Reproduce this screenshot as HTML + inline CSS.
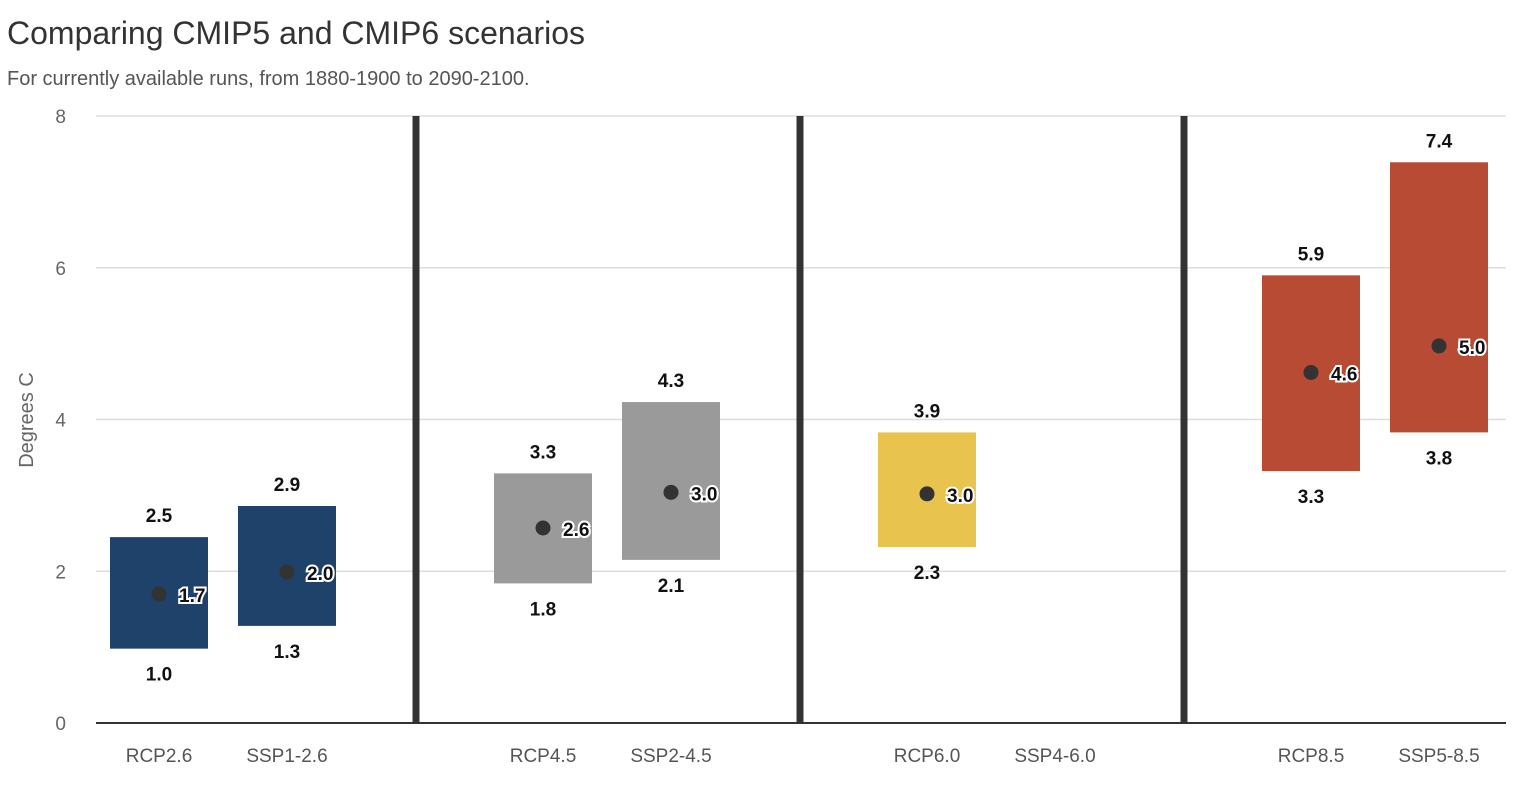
<!DOCTYPE html>
<html><head><meta charset="utf-8"><style>
body{margin:0;background:#fff;font-family:"Liberation Sans",sans-serif;}
svg text{font-family:"Liberation Sans",sans-serif;}
</style></head><body>
<svg id="c" width="1522" height="786" xmlns="http://www.w3.org/2000/svg">
<text x="7" y="44" font-size="32" fill="#333">Comparing CMIP5 and CMIP6 scenarios</text>
<text x="7" y="85" font-size="20" fill="#555">For currently available runs, from 1880-1900 to 2090-2100.</text>
<text transform="translate(33,420) rotate(-90)" text-anchor="middle" font-size="20" fill="#666">Degrees C</text>
<g id="grid"></g><g id="marks"></g>
</svg>
<script>
const categories=["RCP2.6","SSP1-2.6","","RCP4.5","SSP2-4.5","","RCP6.0","SSP4-6.0","","RCP8.5","SSP5-8.5"];
const lows=[0.98,1.28,null,1.84,2.15,null,2.32,null,null,3.32,3.83];
const highs=[2.45,2.86,null,3.29,4.23,null,3.83,null,null,5.90,7.39];
const medians=[1.70,1.99,null,2.57,3.04,null,3.02,null,null,4.62,4.97];
const lowLabels=["1.0","1.3","","1.8","2.1","","2.3","","","3.3","3.8"];
const highLabels=["2.5","2.9","","3.3","4.3","","3.9","","","5.9","7.4"];
const medLabels=["1.7","2.0","","2.6","3.0","","3.0","","","4.6","5.0"];
const colors=["#1f426b","#1f426b","","#9a9a9a","#9a9a9a","","#e8c34d","","","#b84b34","#b84b34"];
const yTicks=[0,2,4,6,8];
const separators=[2,5,8];
const NS="http://www.w3.org/2000/svg";
const y=v=>723-v*75.875;
const x=i=>159+i*128;
function mk(tag,attrs,parent,txt){const e=document.createElementNS(NS,tag);for(const k in attrs)e.setAttribute(k,attrs[k]);if(txt!=null)e.textContent=txt;parent.appendChild(e);return e;}
const g=document.getElementById('grid'),m=document.getElementById('marks');
yTicks.forEach(t=>{
  if(t>0){const l=mk('line',{x1:96,x2:1506,y1:y(t),y2:y(t),stroke:'#ddd','stroke-width':1.5},g);
  
  }
  const tx=mk('text',{x:66,y:y(t)+7,'text-anchor':'end','font-size':19,fill:'#666'},g,String(t));
  
  
});
const base=mk('line',{x1:96,x2:1506,y1:y(0),y2:y(0),stroke:'#333','stroke-width':2},g);


separators.forEach(i=>{
  const l=mk('line',{x1:x(i)+1,x2:x(i)+1,y1:116,y2:723,stroke:'#333','stroke-width':7},g);
  
  
});
categories.forEach((c,i)=>{
  if(c){const t=mk('text',{x:x(i),y:762,'text-anchor':'middle','font-size':19,fill:'#555'},m,c);
  
  }
  if(highs[i]==null)return;
  const r=mk('rect',{x:x(i)-49,y:y(highs[i]),width:98,height:y(lows[i])-y(highs[i]),fill:colors[i]},m);
  
  
  const h=mk('text',{x:x(i),y:y(highs[i])-15,'text-anchor':'middle','font-size':19,'font-weight':'bold',fill:'#111'},m,highLabels[i]);
  
  
  const lo=mk('text',{x:x(i),y:y(lows[i])+32,'text-anchor':'middle','font-size':19,'font-weight':'bold',fill:'#111'},m,lowLabels[i]);
  
  
  const d=mk('circle',{cx:x(i),cy:y(medians[i]),r:7.5,fill:'#333'},m);
  
  
  const ml=mk('text',{x:x(i)+20,y:y(medians[i])+8,'font-size':19,'font-weight':'bold',fill:'#111',stroke:'#fff','stroke-width':4,'paint-order':'stroke'},m,medLabels[i]);
  
  
});
</script>
</body></html>
